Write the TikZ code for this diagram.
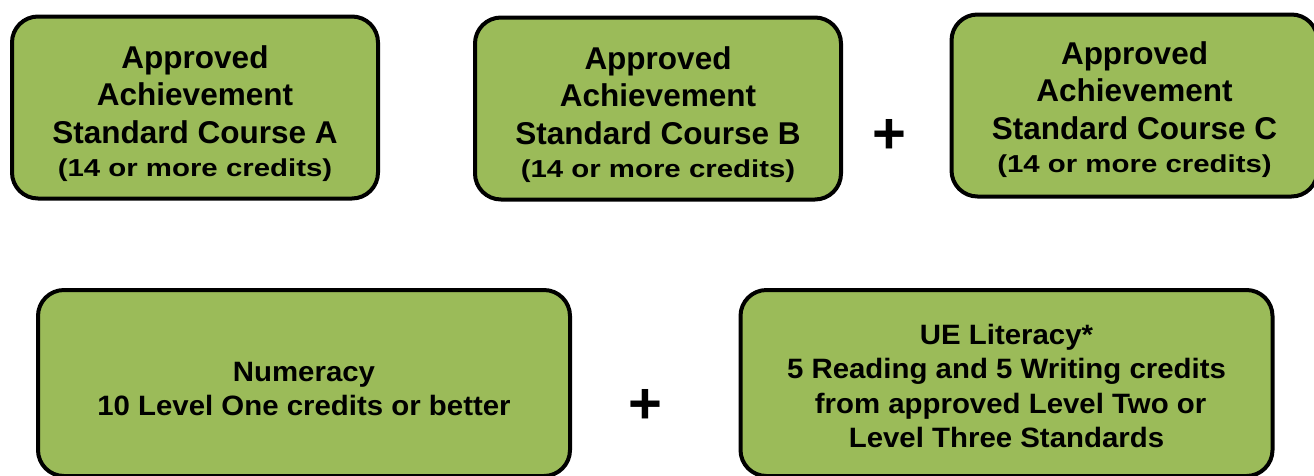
\documentclass[tikz,border=0pt]{standalone}
\usepackage{fontspec}
\setmainfont{Liberation Sans}
\newfontfamily\widefont[FakeStretch=1.2]{Liberation Sans}
\newfontfamily\reqfont[FakeStretch=1.05]{Liberation Sans}
\definecolor{boxgreen}{HTML}{9BBB59}
\newcommand{\credits}{{\widefont\fontsize{24.5}{30}\selectfont (14 or more credits)}}
\tikzset{
	greenbox/.style = {draw = black, line width = 4pt, fill = boxgreen, rounded corners = 26pt},
	coursebox/.style = {greenbox, minimum width = 366pt, minimum height = 182pt},
	reqbox/.style = {greenbox, minimum width = 532pt, minimum height = 186pt},
	coursetext/.style = {align = center, inner sep = 0pt, font = \bfseries\fontsize{31.5}{37.5}\selectfont},
	reqtext/.style = {align = center, inner sep = 0pt, font = \bfseries\reqfont\fontsize{28}{34.5}\selectfont},
	plussign/.style = {font = \bfseries\fontsize{58}{58}\selectfont, inner sep = 0pt}
}
\begin{document}
\begin{tikzpicture}[x = 1pt, y = -1pt]
	\clip (0,0) rectangle (1314,475);
	\fill[white] (0,0) rectangle (1314,475);
	% top row
	\node[coursebox] (courseA) at (195,107.5) {};
	\node[coursetext] (courseAtext) at ([yshift = -6pt]courseA.center) {Approved\\Achievement\\Standard Course A\\[-4pt]\credits};
	\node[coursebox] (courseB) at (658,108.5) {};
	\node[coursetext] (courseBtext) at ([yshift = -6pt]courseB.center) {Approved\\Achievement\\Standard Course B\\[-4pt]\credits};
	\node[plussign] (plusTop) at (889,136) {+};
	\node[coursebox] (courseC) at (1134.5,105.5) {};
	\node[coursetext] (courseCtext) at ([yshift = -4pt]courseC.center) {Approved\\Achievement\\Standard Course C\\[-4pt]\credits};
	% bottom row
	\node[reqbox] (numeracy) at (304,383) {};
	\node[reqtext] (numeracytext) at ([yshift = -6pt]numeracy.center) {Numeracy\\10 Level One credits or better};
	\node[plussign] (plusBottom) at (645,406) {+};
	\node[reqbox] (literacy) at (1006.5,383) {};
	\node[reqtext] (literacytext) at ([yshift = -3pt]literacy.center) {UE Literacy*\\5 Reading and 5 Writing credits\\~from approved Level Two or\\Level Three Standards};
\end{tikzpicture}
\end{document}
